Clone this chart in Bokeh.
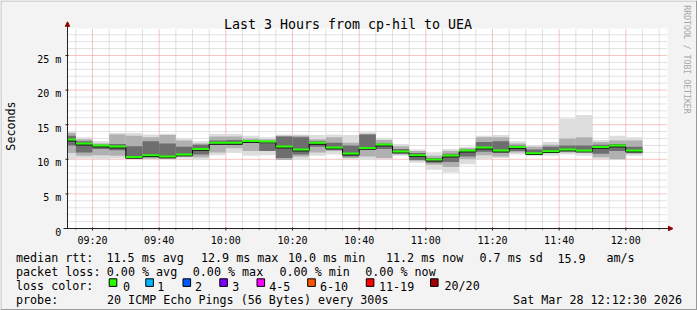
import math
from bokeh.plotting import figure
from bokeh.models import Range1d, ColumnDataSource
from bokeh.core.properties import value
from bokeh.embed import file_html
from bokeh.resources import INLINE

# ---------------- data ----------------
title_text = "Last 3 Hours from cp-hil to UEA"
view_start = "09:12:30"
view_end = "12:12:30"

bin_end = ["09:15", "09:20", "09:25", "09:30", "09:35", "09:40", "09:45", "09:50",
           "09:55", "10:00", "10:05", "10:10", "10:15", "10:20", "10:25", "10:30",
           "10:35", "10:40", "10:45", "10:50", "10:55", "11:00", "11:05", "11:10",
           "11:15", "11:20", "11:25", "11:30", "11:35", "11:40", "11:45", "11:50",
           "11:55", "12:00", "12:05"]

median_ms = [12.83, 12.25, 11.97, 11.82, 10.33, 10.57, 10.38, 10.67, 11.49, 12.36,
             12.36, 12.64, 12.55, 11.82, 11.39, 12.36, 11.68, 10.81, 11.63, 12.11,
             11.10, 10.57, 9.94, 10.52, 11.24, 11.68, 11.24, 11.78, 10.87, 11.15,
             11.39, 11.24, 11.78, 11.97, 11.24]

# smoke: outer (all pings), middle and inner spread, in ms
outer_lo = [10.0, 10.1, 10.0, 10.1, 10.1, 10.0, 10.0, 10.1, 9.9, 10.6,
            11.0, 10.5, 10.6, 9.9, 9.9, 10.5, 10.7, 10.0, 9.9, 10.0,
            10.5, 9.5, 8.5, 8.1, 9.3, 10.0, 10.2, 10.7, 10.5, 10.5,
            10.7, 10.5, 10.0, 9.9, 10.5]
outer_hi = [14.1, 13.2, 12.6, 13.8, 13.8, 13.6, 13.7, 13.0, 12.6, 13.7,
            13.7, 13.4, 13.2, 13.6, 13.6, 13.5, 13.6, 13.5, 13.9, 13.1,
            12.2, 11.4, 10.9, 11.5, 11.8, 13.4, 13.5, 12.6, 12.0, 12.5,
            15.9, 16.4, 12.8, 13.4, 13.2]
mid_lo = [10.9, 10.5, 10.6, 10.5, 10.2, 10.1, 10.1, 10.4, 10.3, 11.0,
          11.6, 11.2, 11.2, 9.9, 10.4, 11.0, 11.2, 10.2, 10.4, 10.2,
          10.7, 9.8, 9.2, 8.9, 10.0, 10.6, 10.4, 11.0, 10.8, 10.9,
          11.0, 11.0, 10.3, 10.0, 10.8]
mid_hi = [13.8, 12.9, 12.3, 13.6, 13.4, 13.2, 13.5, 12.7, 12.3, 13.3,
          13.3, 13.0, 12.9, 13.4, 13.4, 12.9, 13.2, 12.4, 13.7, 12.8,
          11.9, 11.2, 10.5, 11.2, 11.6, 13.2, 13.2, 12.3, 11.8, 12.1,
          13.0, 13.2, 12.5, 12.7, 12.7]
in_lo = [12.0, 11.0, 11.5, 11.3, 10.2, 10.3, 10.2, 10.5, 10.7, 12.1,
         12.1, 12.4, 11.2, 10.2, 10.7, 11.8, 11.4, 10.4, 11.6, 11.5,
         10.9, 9.9, 9.5, 9.6, 10.4, 11.1, 11.0, 11.2, 10.9, 11.0,
         11.2, 11.2, 10.8, 11.2, 11.0]
in_hi = [13.4, 12.6, 12.1, 12.2, 11.9, 12.6, 12.3, 11.8, 12.1, 12.7,
         12.8, 12.8, 12.3, 13.3, 13.2, 12.6, 12.4, 12.0, 13.6, 12.3,
         11.5, 10.9, 10.2, 10.8, 11.4, 12.5, 12.6, 12.0, 11.4, 11.8,
         12.0, 12.0, 12.1, 12.2, 11.8]

x_tick_labels = ["09:20", "09:40", "10:00", "10:20", "10:40", "11:00", "11:20", "11:40", "12:00"]
y_tick_values = [0, 5, 10, 15, 20, 25]
y_tick_labels = ["0", "5 m", "10 m", "15 m", "20 m", "25 m"]
y_max = 28.9
y_minor_step = 1
x_minor_step = 5

legend_rows = [
    [("median rtt:", 15.5), ("11.5 ms avg", 106.0), ("12.9 ms max", 200.5), ("10.0 ms min", 287.5),
     ("11.2 ms now", 385.5), ("0.7 ms sd", 479.0), ("15.9", 557.0), ("am/s", 606.0)],
    [("packet loss:", 15.5), ("0.00 % avg", 106.3), ("0.00 % max", 192.3), ("0.00 % min", 279.0),
     ("0.00 % now", 364.8)],
    [("loss color:", 15.5)],
    [("probe:", 15.5), ("20 ICMP Echo Pings (56 Bytes) every 300s", 106.5)],
]
loss_labels = ["0", "1", "2", "3", "4-5", "6-10", "11-19", "20/20"]
loss_colors = ["#26ff00", "#00b8ff", "#0059ff", "#7e00ff", "#ff00ff", "#ff5500", "#ff0000", "#a10000"]
loss_box_x = [108.7, 145.3, 182.5, 219.3, 256.5, 307.2, 365.8, 430.0]
loss_text_x = [122.5, 156.8, 194.5, 231.8, 268.8, 319.5, 378.5, 444.0]
stamp_text = "Sat Mar 28 12:12:30 2026"
watermark = "RRDTOOL / TOBI OETIKER"
y_title = "Seconds"

# ---------------- layout helpers (pixel -> data) ----------------
def tmin(s):
    parts = [float(v) for v in s.split(":")]
    while len(parts) < 3:
        parts.append(0.0)
    return parts[0] * 60 + parts[1] + parts[2] / 60.0

XS, XE = tmin(view_start), tmin(view_end)
FL, FT, FW, FH = 67, 28, 600, 200      # plot area in pixels
W, H = 697, 310

def dx(px):
    return XS + (px - FL) * (XE - XS) / FW

def dy(py):
    return (FT + FH - py) * y_max / FH

PX = (XE - XS) / FW      # one pixel in x data units
PY = y_max / FH          # one pixel in y data units

FONT = "DejaVu Sans Mono"

p = figure(width=W, height=H, output_backend="svg", toolbar_location=None,
           x_range=Range1d(dx(0), dx(W)), y_range=Range1d(dy(H), dy(0)),
           x_axis_location=None, y_axis_location=None,
           min_border=0, min_border_left=0, min_border_right=0,
           min_border_top=0, min_border_bottom=0)
p.grid.visible = False
p.outline_line_color = None
p.background_fill_color = "#f3f3f3"
p.border_fill_color = "#f3f3f3"

# outer 3D frame
p.segment(x0=[dx(0), dx(0.5)], y0=[dy(0.5), dy(0)], x1=[dx(W), dx(0.5)], y1=[dy(0.5), dy(H)],
          line_color="#cbcbcb", line_width=1.5)
p.segment(x0=[dx(0), dx(W - 0.75)], y0=[dy(H - 0.75), dy(0)], x1=[dx(W), dx(W - 0.75)], y1=[dy(H - 0.75), dy(H)],
          line_color="#999999", line_width=1.5)

# plot canvas
p.quad(left=[XS], right=[XE], bottom=[0], top=[y_max], fill_color="#ffffff", line_color=None)

# grid
major_x = [tmin(t) for t in x_tick_labels]
minor_x = [m for m in range(int(math.ceil(XS / x_minor_step)) * x_minor_step, int(XE) + 1, x_minor_step)
           if m not in major_x]
minor_y = [v for v in range(y_minor_step, int(y_max) + 1, y_minor_step) if v not in y_tick_values]
major_y = [v for v in y_tick_values if v > 0]

p.segment(x0=minor_x, y0=[0] * len(minor_x), x1=minor_x, y1=[y_max] * len(minor_x),
          line_color="#c4c4c4", line_width=1, line_dash="1 1")
p.segment(x0=[XS] * len(minor_y), y0=minor_y, x1=[XE] * len(minor_y), y1=minor_y,
          line_color="#c4c4c4", line_width=1, line_dash="1 1")
p.segment(x0=major_x, y0=[0] * len(major_x), x1=major_x, y1=[y_max] * len(major_x),
          line_color="#f08888", line_width=1, line_dash="1 1")
p.segment(x0=[XS] * len(major_y), y0=major_y, x1=[XE] * len(major_y), y1=major_y,
          line_color="#f08888", line_width=1, line_dash="1 1")

# smoke
ends = [tmin(t) for t in bin_end]
lefts = [max(e - 5, XS) for e in ends]
src = ColumnDataSource(dict(left=lefts, right=ends, olo=outer_lo, ohi=outer_hi,
                            mlo=mid_lo, mhi=mid_hi, ilo=in_lo, ihi=in_hi, med=median_ms))
p.quad(left="left", right="right", bottom="olo", top="ohi", source=src, fill_color="#dddddd", line_color=None)
p.quad(left="left", right="right", bottom="mlo", top="mhi", source=src, fill_color="#b0b0b0", line_color=None)
p.quad(left="left", right="right", bottom="ilo", top="ihi", source=src, fill_color="#6e6e6e", line_color=None)

# median: black step + green band
step_x = lefts + [ends[-1]]
step_y = [m - 1.2 * PY for m in median_ms] + [median_ms[-1] - 1.2 * PY]
p.step(step_x, step_y, mode="after", line_color="#000000", line_width=1)
p.quad(left=lefts, right=ends, bottom=[m - 0.9 * PY for m in median_ms],
       top=[m + 1.1 * PY for m in median_ms], fill_color=loss_colors[0], line_color=None)

# axes
AX = "#222222"
p.segment(x0=[XS], y0=[0], x1=[XS], y1=[dy(24)], line_color=AX, line_width=1)
p.segment(x0=[dx(63)], y0=[0], x1=[dx(669)], y1=[0], line_color=AX, line_width=1)
p.patch([XS - 2.2 * PX, XS + 2.2 * PX, XS], [dy(25.8), dy(25.8), dy(21.3)], fill_color="#8b0000", line_color="#8b0000")
p.patch([dx(668), dx(668), dx(672.5)], [2.2 * PY, -2.2 * PY, 0], fill_color="#8b0000", line_color="#8b0000")
# ticks
p.segment(x0=major_x, y0=[-2 * PY] * len(major_x), x1=major_x, y1=[1 * PY] * len(major_x), line_color=AX)
p.segment(x0=minor_x, y0=[-1 * PY] * len(minor_x), x1=minor_x, y1=[0.5 * PY] * len(minor_x), line_color=AX)
p.segment(x0=[XS - 2 * PX] * len(major_y), y0=major_y, x1=[XS + 1 * PX] * len(major_y), y1=major_y, line_color=AX)

# tick labels
p.text(x=major_x, y=[dy(240)] * len(major_x), text=x_tick_labels, text_font=value(FONT),
       text_font_size="10px", text_align="center", text_baseline="alphabetic", text_color="#000000")
p.text(x=[dx(60.8)] * len(y_tick_values), y=[v - 3.6 * PY for v in y_tick_values], text=y_tick_labels,
       text_font=value(FONT), text_font_size="10px", text_align="right", text_baseline="alphabetic",
       text_color="#000000")

def lab(text, px, py, size, align="left", baseline="alphabetic", angle=0.0, color="#000000"):
    p.text(x=[dx(px)], y=[dy(py)], text=[text], text_font=value(FONT), text_font_size=f"{size}px",
           text_align=align, text_baseline=baseline, angle=angle, text_color=color)

lab(title_text, 347.5, 24.0, 13.3, align="center")
lab(y_title, 10.7, 125.5, 11.7, align="center", baseline="middle", angle=math.pi / 2)
lab(watermark, 686.5, 59.0, 8.2, align="center", baseline="middle", angle=-math.pi / 2, color="#a8a8a8")

row_base = [257.8, 271.8, 285.8, 299.8]
for row, base in zip(legend_rows, row_base):
    for text, px in row:
        lab(text, px, base, 11.7)
p.quad(left=[dx(b) for b in loss_box_x], right=[dx(b + 7.6) for b in loss_box_x],
       top=[dy(278.3)] * len(loss_box_x), bottom=[dy(285.9)] * len(loss_box_x),
       fill_color=loss_colors, line_color="#000000", line_width=1)
for t, tx in zip(loss_labels, loss_text_x):
    lab(t, tx, row_base[2], 11.7)
lab(stamp_text, 681.5, row_base[3], 11.7, align="right")

open("out.html", "w").write(file_html(p, INLINE))
